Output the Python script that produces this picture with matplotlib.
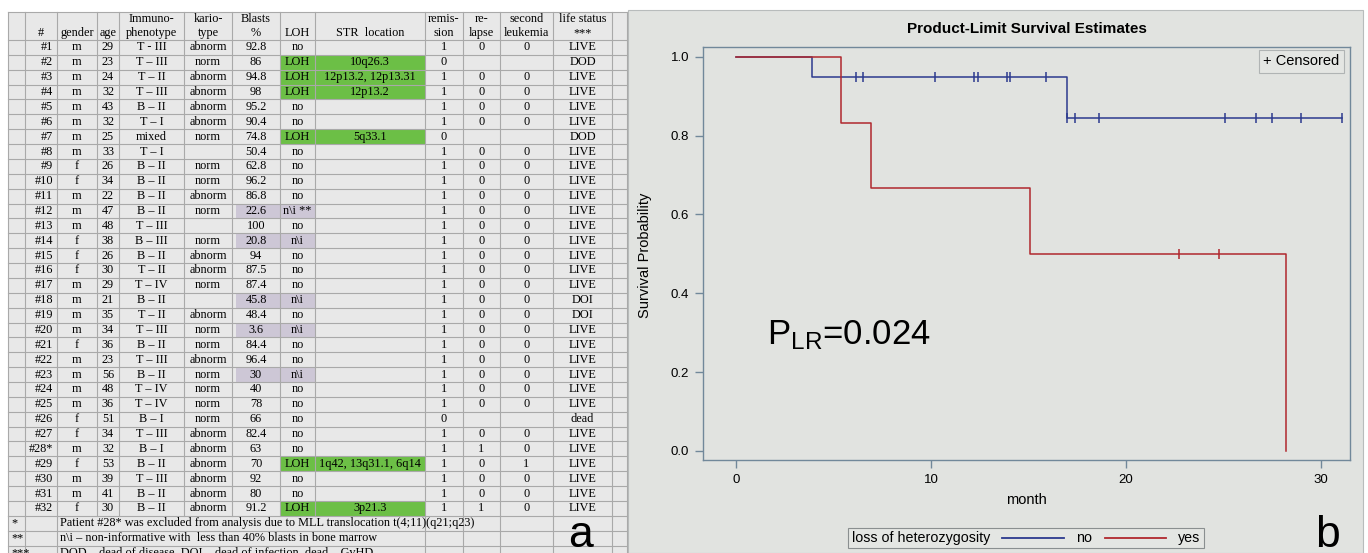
import matplotlib.pyplot as plt
from matplotlib.patches import Rectangle
from matplotlib.lines import Line2D
from matplotlib.offsetbox import HPacker, TextArea, DrawingArea, AnchoredOffsetbox

# ---- table data (panel a) ----
ids = ['#%d' % i for i in range(1, 33)]
ids[27] = '#28*'
gender = ['m', 'm', 'm', 'm', 'm', 'm', 'm', 'm', 'f', 'f', 'm', 'm', 'm', 'f', 'f', 'f',
          'm', 'm', 'm', 'm', 'f', 'm', 'm', 'm', 'm', 'f', 'f', 'm', 'f', 'm', 'm', 'f']
age = [29, 23, 24, 32, 43, 32, 25, 33, 26, 34, 22, 47, 48, 38, 26, 30,
       29, 21, 35, 34, 36, 23, 56, 48, 36, 51, 34, 32, 53, 39, 41, 30]
immuno = ['T - III', 'T – III', 'T – II', 'T – III', 'B – II', 'T – I', 'mixed', 'T – I',
          'B – II', 'B – II', 'B – II', 'B – II', 'T – III', 'B – III', 'B – II', 'T – II',
          'T – IV', 'B – II', 'T – II', 'T – III', 'B – II', 'T – III', 'B – II', 'T – IV',
          'T – IV', 'B – I', 'T – III', 'B – I', 'B – II', 'T – III', 'B – II', 'B – II']
kario = ['abnorm', 'norm', 'abnorm', 'abnorm', 'abnorm', 'abnorm', 'norm', '',
         'norm', 'norm', 'abnorm', 'norm', '', 'norm', 'abnorm', 'abnorm',
         'norm', '', 'abnorm', 'norm', 'norm', 'abnorm', 'norm', 'norm',
         'norm', 'norm', 'abnorm', 'abnorm', 'abnorm', 'abnorm', 'abnorm', 'abnorm']
blasts = [92.8, 86, 94.8, 98, 95.2, 90.4, 74.8, 50.4, 62.8, 96.2, 86.8, 22.6, 100, 20.8, 94, 87.5,
          87.4, 45.8, 48.4, 3.6, 84.4, 96.4, 30, 40, 78, 66, 82.4, 63, 70, 92, 80, 91.2]
loh = ['no', 'LOH', 'LOH', 'LOH', 'no', 'no', 'LOH', 'no', 'no', 'no', 'no', 'n\\i **', 'no',
       'n\\i', 'no', 'no', 'no', 'n\\i', 'no', 'n\\i', 'no', 'no', 'n\\i', 'no', 'no', 'no',
       'no', 'no', 'LOH', 'no', 'no', 'LOH']
str_loc = [''] * 32
str_loc[1] = '10q26.3'
str_loc[2] = '12p13.2, 12p13.31'
str_loc[3] = '12p13.2'
str_loc[6] = '5q33.1'
str_loc[28] = '1q42, 13q31.1, 6q14'
str_loc[31] = '3p21.3'
remission = ['1', '0', '1', '1', '1', '1', '0', '1', '1', '1', '1', '1', '1', '1', '1', '1',
             '1', '1', '1', '1', '1', '1', '1', '1', '1', '0', '1', '1', '1', '1', '1', '1']
relapse = ['0', '', '0', '0', '0', '0', '', '0', '0', '0', '0', '0', '0', '0', '0', '0',
           '0', '0', '0', '0', '0', '0', '0', '0', '0', '', '0', '1', '0', '0', '0', '1']
second = ['0', '', '0', '0', '0', '0', '', '0', '0', '0', '0', '0', '0', '0', '0', '0',
          '0', '0', '0', '0', '0', '0', '0', '0', '0', '', '0', '0', '1', '0', '0', '0']
life = ['LIVE', 'DOD', 'LIVE', 'LIVE', 'LIVE', 'LIVE', 'DOD', 'LIVE', 'LIVE', 'LIVE', 'LIVE',
        'LIVE', 'LIVE', 'LIVE', 'LIVE', 'LIVE', 'LIVE', 'DOI', 'DOI', 'LIVE', 'LIVE', 'LIVE',
        'LIVE', 'LIVE', 'LIVE', 'dead', 'LIVE', 'LIVE', 'LIVE', 'LIVE', 'LIVE', 'LIVE']
headers = ['#', 'gender', 'age', 'Immuno-\nphenotype', 'kario-\ntype', 'Blasts\n%', 'LOH',
           'STR  location', 'remis-\nsion', 're-\nlapse', 'second\nleukemia', 'life status\n***']
notes = [('*', 'Patient #28* was excluded from analysis due to MLL translocation t(4;11)(q21;q23)'),
         ('**', 'n\\i – non-informative with  less than 40% blasts in bone marrow'),
         ('***', 'DOD – dead of disease, DOI – dead of infection, dead – GvHD')]

# ---- survival data (panel b) ----
no_times = [0, 3.9, 17.0, 31.1]
no_surv = [1.0, 0.95, 0.844, 0.844]
no_cens_t = [6.15, 6.5, 10.2, 12.2, 12.4, 13.9, 14.05, 15.9, 17.0, 17.4, 18.6, 25.1, 26.7, 27.5, 29.0, 31.1]
no_cens_s = [0.95] * 8 + [0.844] * 8
yes_times = [0, 5.4, 6.9, 15.1, 28.2]
yes_surv = [1.0, 0.833, 0.667, 0.5, 0.0]
yes_cens_t = [22.7, 24.8]
yes_cens_s = [0.5, 0.5]

blue = '#2c3a8e'
red = '#b0282e'
W, H = 1368, 553

fig = plt.figure(figsize=(13.68, 5.53), dpi=100)
fig.patch.set_facecolor('white')

# full-figure pixel axes for the table and panel backgrounds
tab = fig.add_axes([0, 0, 1, 1])
tab.set_xlim(0, W)
tab.set_ylim(H, 0)
tab.axis('off')

tab.add_patch(Rectangle((8, 12), 619, H - 12, fc='#e8e8e8', ec='none', zorder=0))
tab.add_patch(Rectangle((628, 10), 735, H - 10, fc='#e1e3e0', ec='#b8bcbc', lw=0.8, zorder=0))

edges = [8, 25, 57, 97, 119, 184, 232, 280, 315, 425, 463, 500, 553, 612, 627]
top, head_bot, rh = 12, 40, 14.87
serif = ['Liberation Serif', 'DejaVu Serif']
fs = 8.8
gridc = '#a9a9a9'

# cell shading
for i in range(32):
    y0 = head_bot + i * rh
    if loh[i] == 'LOH':
        tab.add_patch(Rectangle((edges[7], y0), edges[9] - edges[7], rh, fc='#6cbf46', ec='none', zorder=1))
    elif loh[i].startswith('n\\i'):
        tab.add_patch(Rectangle((edges[6] + 4, y0), edges[8] - edges[6] - 4, rh, fc='#cdc7d6', ec='none', zorder=1))

# grid lines
n_rows = 35
for k in range(n_rows + 1):
    y = head_bot + k * rh
    if y <= H:
        tab.plot([8, 627], [y, y], color=gridc, lw=0.8, zorder=2)
tab.plot([8, 627], [top, top], color=gridc, lw=0.8, zorder=2)
body_bot = head_bot + 32 * rh
for j, x in enumerate(edges):
    tab.plot([x, x], [top, body_bot], color=gridc, lw=0.8, zorder=2)
    if j in (0, 1, 2, 9, 10, 11, 12, 13, 14):
        tab.plot([x, x], [body_bot, H], color=gridc, lw=0.8, zorder=2)

# header
centers = [(edges[j + 1] + edges[j + 2]) / 2 for j in range(12)]
for j, h in enumerate(headers):
    if '\n' in h:
        tab.text(centers[j], 26, h, ha='center', va='center', fontsize=fs, family=serif,
                 linespacing=1.2, zorder=3)
    else:
        tab.text(centers[j], 33, h, ha='center', va='center', fontsize=fs, family=serif, zorder=3)

# body
for i in range(32):
    yc = head_bot + (i + 0.5) * rh
    row = [ids[i], gender[i], str(age[i]), immuno[i], kario[i], '{:g}'.format(blasts[i]),
           loh[i], str_loc[i], remission[i], relapse[i], second[i], life[i]]
    for j, s in enumerate(row):
        if j == 0:
            tab.text(edges[2] - 4, yc, s, ha='right', va='center', fontsize=fs, family=serif, zorder=3)
        else:
            tab.text(centers[j], yc, s, ha='center', va='center', fontsize=fs, family=serif, zorder=3)

for k, (mark, txt) in enumerate(notes):
    yc = body_bot + (k + 0.5) * rh
    tab.text(11, yc, mark, ha='left', va='center', fontsize=fs, family=serif, zorder=3)
    tab.text(edges[2] + 3, yc, txt, ha='left', va='center', fontsize=fs, family=serif, zorder=3)

tab.text(580, 547, 'a', ha='center', va='baseline', fontsize=32, family='Liberation Sans', zorder=3)
tab.text(1327, 547, 'b', ha='center', va='baseline', fontsize=32, family='Liberation Sans', zorder=3)

# ---- Kaplan-Meier panel ----
sans = ['Liberation Sans', 'DejaVu Sans']
frame = '#71889a'
ax = fig.add_axes([703 / W, 1 - 460 / H, (1350 - 703) / W, (460 - 47) / H], zorder=2)
ax.set_facecolor('#e1e3e0')
ax.step(no_times, no_surv, where='post', color=blue, lw=1.1)
ax.step(yes_times, yes_surv, where='post', color=red, lw=1.1)
ax.plot(no_cens_t, no_cens_s, ls='none', marker='|', ms=7, mew=1.1, color=blue)
ax.plot(yes_cens_t, yes_cens_s, ls='none', marker='|', ms=7, mew=1.1, color=red)

ax.set_xlim(-1.7, 31.5)
ax.set_ylim(-0.023, 1.025)
ax.set_xticks([0, 10, 20, 30])
ax.set_yticks([0, 0.2, 0.4, 0.6, 0.8, 1.0])
ax.set_yticklabels(['0.0', '0.2', '0.4', '0.6', '0.8', '1.0'])
for sp in ax.spines.values():
    sp.set_color(frame)
    sp.set_linewidth(1.0)
ax.tick_params(direction='out', length=6, width=1.0, color=frame, labelsize=9.5, pad=4)
for lab in ax.get_xticklabels() + ax.get_yticklabels():
    lab.set_family(sans)

ax.set_title('Product-Limit Survival Estimates', fontsize=11, fontweight='bold', family=sans, pad=10)
ax.set_xlabel('month', fontsize=10.5, family=sans, labelpad=5)
fig.text(645 / W, 1 - 255 / H, 'Survival Probability', rotation=90, ha='center', va='center',
         fontsize=10.5, family=sans)

ax.text(1.6, 0.295, r'$\mathregular{P_{LR}}$=0.024', ha='left', va='center', fontsize=25, family=sans)

ax.text(0.984, 0.982, '+ Censored', transform=ax.transAxes, ha='right', va='top', fontsize=10.5, family=sans,
        bbox=dict(boxstyle='square,pad=0.3', fc='#e4e6e3', ec='#b0b4b4', lw=0.8))


def swatch(color):
    da = DrawingArea(44, 8, 0, 0)
    da.add_artist(Line2D([0, 44], [4, 4], color=color, lw=1.3))
    return da


tp = dict(fontsize=10.3, family=sans)
packer = HPacker(children=[TextArea('loss of heterozygosity', textprops=tp), swatch(blue),
                           TextArea('no', textprops=tp), swatch(red), TextArea('yes', textprops=tp)],
                 pad=0, sep=9, align='center')
leg = AnchoredOffsetbox(loc='center', child=packer, bbox_to_anchor=(1026 / W, 1 - 538 / H),
                        bbox_transform=fig.transFigure, frameon=True, pad=0.25, borderpad=0)
leg.patch.set_facecolor('#e4e6e3')
leg.patch.set_edgecolor('#8a8f90')
leg.patch.set_linewidth(0.8)
fig.add_artist(leg)

fig.savefig('out.png', dpi=100)
